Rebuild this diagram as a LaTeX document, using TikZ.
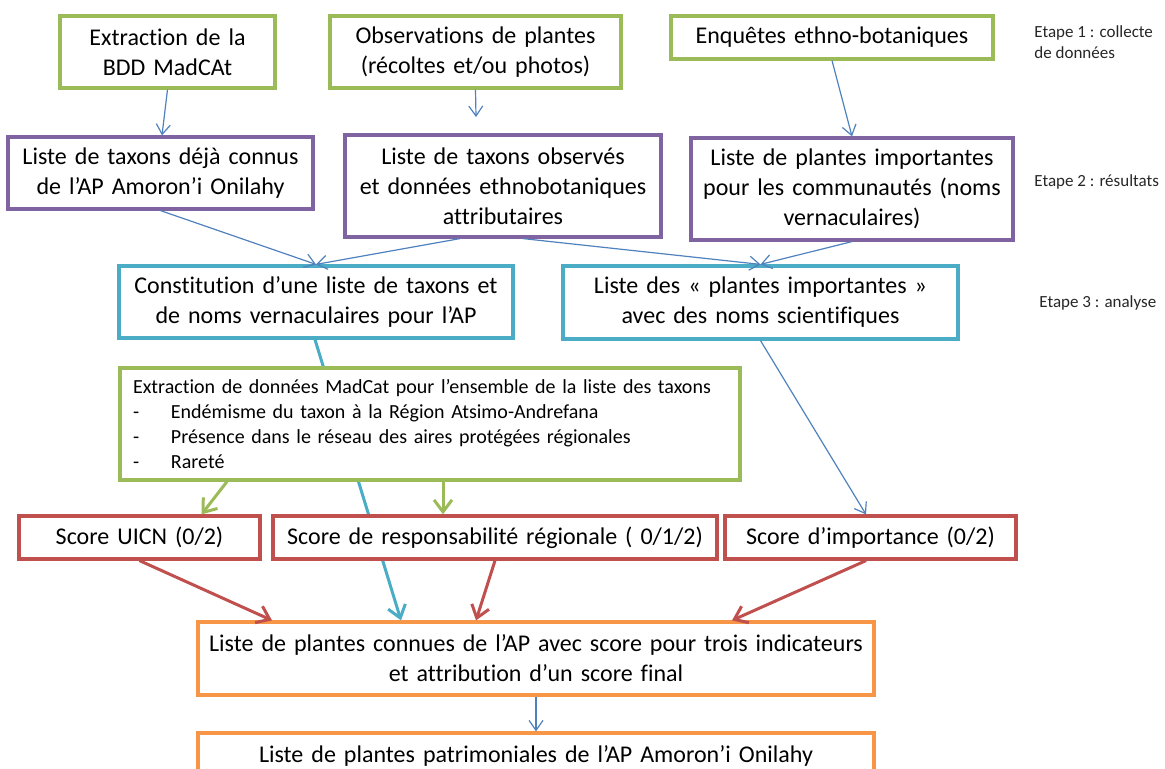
\documentclass[tikz,border=0pt]{standalone}
\usepackage{fontspec}
\setmainfont{Carlito}[Ligatures=NoCommon]
\usetikzlibrary{arrows.meta,backgrounds}

\definecolor{vert}{HTML}{9BBB59}
\definecolor{violet}{HTML}{8064A2}
\definecolor{turquoise}{HTML}{4BACC6}
\definecolor{rouge}{HTML}{C0504D}
\definecolor{orange}{HTML}{F79646}
\definecolor{bleu}{HTML}{4F81BD}

\begin{document}
\begin{tikzpicture}[x=0.5pt,y=-0.5pt,
    box/.style={draw,line width=1.6pt,fill=white,inner sep=0pt,align=center,
                font=\fontsize{12}{15}\selectfont},
    greenbox/.style={box,draw=vert},
    violetbox/.style={box,draw=violet},
    cyanbox/.style={box,draw=turquoise},
    redbox/.style={box,draw=rouge},
    orangebox/.style={box,draw=orange},
    bluearrow/.style={draw=bleu,line width=0.6pt,-{Straight Barb[length=5pt,width=7pt]}},
    redarrow/.style={draw=rouge,line width=1.5pt,-{Straight Barb[length=6pt,width=9pt]}},
    greenarrow/.style={redarrow,draw=vert},
    cyanarrow/.style={redarrow,draw=turquoise},
    etape/.style={anchor=west,align=left,inner sep=0pt,font=\fontsize{8.5}{10.5}\selectfont,text=black!85}]
                \useasboundingbox (0,0) rectangle (1165,769);
                % etape 1
                \node[greenbox,text width=107.5pt,minimum height=36pt] (b1) at (167.5,52) {Extraction de la\\BDD MadCAt};
                \node[greenbox,text width=145.5pt,minimum height=36pt] (b2) at (475.5,52) {Observations de plantes\\(récoltes et/ou photos)};
                \node[greenbox,text width=161pt,minimum height=21.5pt] (b3) at (832,37.5) {Enquêtes ethno-botaniques};
                \coordinate (b2end) at (476,117);
                % etape 2
                \node[violetbox,text width=152.5pt,minimum height=36pt] (p1) at (160.5,173) {Liste de taxons déjà connus\\de l’AP Amoron’i Onilahy};
                \node[violetbox,text width=158pt,minimum height=51pt] (p2) at (503,186) {Liste de taxons observés\\et données ethnobotaniques\\attributaires};
                \node[violetbox,text width=161pt,minimum height=51pt] (p3) at (852,189) {Liste de plantes importantes\\pour les communautés (noms\\vernaculaires)};
                % etape 3
                \node[cyanbox,text width=197pt,minimum height=36pt] (c1) at (316,302) {Constitution d’une liste de taxons et\\de noms vernaculaires pour l’AP};
                \node[cyanbox,text width=197.5pt,minimum height=36.5pt] (c2) at (760.5,302.5) {Liste des « plantes importantes »\\avec des noms scientifiques};
                \node[greenbox,align=left,inner xsep=6.5pt,text width=297pt,minimum height=56pt,
                      font=\fontsize{10}{12.5}\selectfont] (g) at (430,424)
                    {Extraction de données MadCat pour l’ensemble de la liste des taxons\\
                     \makebox[19pt][l]{-}Endémisme du taxon à la Région Atsimo-Andrefana\\
                     \makebox[19pt][l]{-}Présence dans le réseau des aires protégées régionales\\
                     \makebox[19pt][l]{-}Rareté};
                \node[redbox,text width=120.5pt,minimum height=21.5pt] (r1) at (139.5,537.5) {Score UICN (0/2)};
                \node[redbox,text width=222pt,minimum height=21.5pt] (r2) at (495,537.5) {Score de responsabilité régionale ( 0/1/2)};
                \node[redbox,text width=145.5pt,minimum height=21.5pt] (r3) at (870.5,537.5) {Score d’importance (0/2)};
                \node[orangebox,text width=338pt,minimum height=36.5pt] (o1) at (536,658.5) {Liste de plantes connues de l’AP avec score pour trois indicateurs\\et attribution d’un score final};
                \node[orangebox,text width=338pt,minimum height=23pt] (o2) at (536,756) {Liste de plantes patrimoniales de l’AP Amoron’i Onilahy};
                % etapes
                \node[etape] (e1) at (1034,42.5) {Etape 1 : collecte\\de données};
                \node[etape] (e2) at (1034,182) {Etape 2 : résultats};
                \node[etape] (e3) at (1039,303) {Etape 3 : analyse};
                % liens
                \draw[bluearrow] (b1.south) -- ([xshift=0.75pt]p1.north);
                \draw[bluearrow] (b2.south) -- (b2end);
                \draw[bluearrow] (b3.south) -- (p3.north);
                \draw[bluearrow] (p1.south) -- (c1.north);
                \draw[bluearrow] ([xshift=-21.5pt]p2.south) -- (c1.north);
                \draw[bluearrow] ([xshift=10pt]p2.south) -- (c2.north);
                \draw[bluearrow] (p3.south) -- (c2.north);
                \draw[bluearrow] (c2.south) -- ([xshift=-2.25pt]r3.north);
                \begin{pgfonlayer}{background}
                    \draw[cyanarrow] ([xshift=-0.5pt]c1.south) -- ([xshift=-67.5pt]o1.north);
                \end{pgfonlayer}
                \draw[greenarrow] ([xshift=-101.5pt]g.south) -- ([xshift=31pt]r1.north);
                \draw[greenarrow] ([xshift=6.5pt]g.south) -- ([xshift=-26pt]r2.north);
                \draw[redarrow] (r1.south) -- ([xshift=-132pt]o1.north);
                \draw[redarrow] (r2.south) -- ([xshift=-30pt]o1.north);
                \draw[redarrow] ([xshift=-2.25pt]r3.south) -- ([xshift=98pt]o1.north);
                \draw[bluearrow] (o1.south) -- (o2.north);
            \end{tikzpicture}
\end{document}
